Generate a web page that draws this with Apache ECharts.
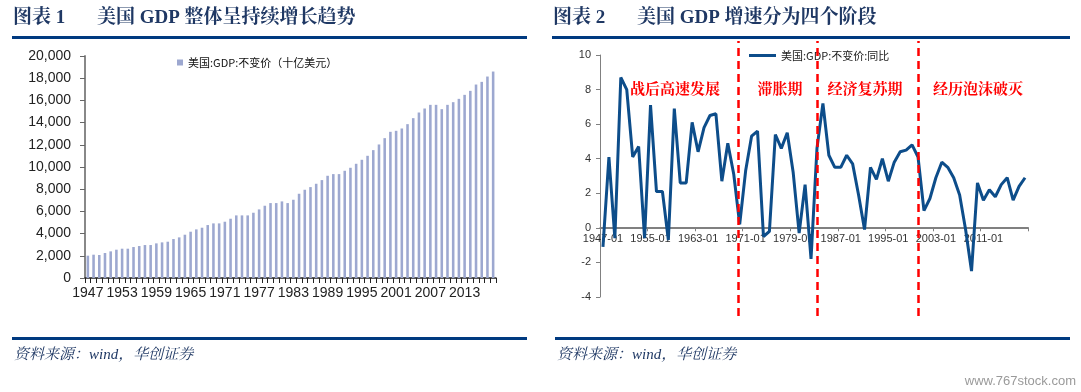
<!DOCTYPE html>
<html><head><meta charset="utf-8">
<script src="https://cdn.jsdelivr.net/npm/echarts@6/dist/echarts.min.js"></script>
<style>html,body{margin:0;padding:0;background:#fff;}#c{width:1081px;height:392px;}</style>
</head><body><div id="c"></div>
<script>
// ---- data ----
const years = ['1947','1948','1949','1950','1951','1952','1953','1954','1955','1956',
  '1957','1958','1959','1960','1961','1962','1963','1964','1965','1966',
  '1967','1968','1969','1970','1971','1972','1973','1974','1975','1976',
  '1977','1978','1979','1980','1981','1982','1983','1984','1985','1986',
  '1987','1988','1989','1990','1991','1992','1993','1994','1995','1996',
  '1997','1998','1999','2000','2001','2002','2003','2004','2005','2006',
  '2007','2008','2009','2010','2011','2012','2013','2014','2015','2016',
  '2017','2018'];
// 美国:GDP:不变价（十亿美元）
const gdpLevel = [2010,2100,2070,2250,2400,2550,2640,2640,2790,2880,
  2970,2970,3120,3210,3270,3510,3660,3900,4170,4380,
  4530,4770,4920,4920,5070,5340,5640,5640,5640,5880,
  6180,6510,6750,6750,6900,6750,7050,7590,7950,8190,
  8490,8820,9210,9360,9360,9660,9930,10290,10650,11010,
  11520,12030,12600,13170,13260,13470,13860,14400,14910,15270,
  15600,15600,15210,15600,15840,16140,16500,16860,17430,17670,
  18150,18600];
// 美国:GDP:不变价:同比 (%)
const gdpGrowth = [-1.1,4.1,-0.6,8.7,8.0,4.1,4.7,-0.6,7.1,2.1,
  2.1,-0.7,6.9,2.6,2.6,6.1,4.4,5.8,6.5,6.6,
  2.7,4.9,3.1,0.2,3.3,5.3,5.6,-0.5,-0.2,5.4,
  4.6,5.5,3.2,-0.3,2.5,-1.8,4.6,7.2,4.2,3.5,
  3.5,4.2,3.7,1.9,-0.1,3.5,2.8,4.0,2.7,3.8,
  4.4,4.5,4.8,4.1,1.0,1.7,2.9,3.8,3.5,2.9,
  1.9,-0.1,-2.5,2.6,1.6,2.2,1.8,2.5,2.9,1.6,
  2.4,2.9];
const growthCats = years.map(y => y + '-01');
const phaseNames = ['战后高速发展','滞胀期','经济复苏期','经历泡沫破灭'];
const phaseBreaks = [1969.7, 1983.0, 2000.0];
const legendLevel = '美国:GDP:不变价（十亿美元）';
const legendGrowth = '美国:GDP:不变价:同比';
const title1 = ['图表 1', '美国 GDP 整体呈持续增长趋势'];
const title2 = ['图表 2', '美国 GDP 增速分为四个阶段'];
const sourceText = '资料来源：wind，华创证券';

// ---- chart ----
const chart = echarts.init(document.getElementById('c'), null, {renderer:'canvas'});
const navy = '#1F3864';
const lineBlue = '#003A80';
const titleFont = "bold 19px 'Liberation Serif','Noto Serif CJK SC','Noto Sans CJK SC',serif";
const srcFont = "italic 15px 'Liberation Serif','Noto Serif CJK SC','Noto Sans CJK SC',serif";
const redFont = "bold 15px 'Noto Serif CJK SC','Noto Sans CJK SC',serif";
const sansAx = "'Liberation Sans', Arial, sans-serif";
const cjk = "'Noto Sans CJK SC', sans-serif";

function txt(text, x, y, font, fill, align) {
  return {type:'text', x:x, y:y, silent:true,
    style:{text:text, font:font, fill:fill, align:align||'left', verticalAlign:'middle'}};
}
function bar(x, y, w, h, c) {
  return {type:'rect', silent:true, shape:{x:x, y:y, width:w, height:h}, style:{fill:c}};
}
const phaseX = [675, 780, 865, 978];

chart.setOption({
  animation:false,
  backgroundColor:'#ffffff',
  graphic:[
    txt(title1[0], 13, 18, titleFont, navy),
    txt(title1[1], 97, 18, titleFont, navy),
    txt(title2[0], 553, 18, titleFont, navy),
    txt(title2[1], 637, 18, titleFont, navy),
    bar(12, 36, 515, 3, lineBlue),
    bar(552, 36, 518, 3, lineBlue),
    bar(12, 337, 515, 3, lineBlue),
    bar(555, 337, 515, 3, lineBlue),
    txt(sourceText, 14, 355, srcFont, navy),
    txt(sourceText, 557, 355, srcFont, navy),
    txt('www.767stock.com', 1076, 381, "13px 'Liberation Sans Narrow','Liberation Sans',sans-serif", '#9a9a9a', 'right'),
    txt(phaseNames[0], phaseX[0], 88, redFont, '#FF0000', 'center'),
    txt(phaseNames[1], phaseX[1], 88, redFont, '#FF0000', 'center'),
    txt(phaseNames[2], phaseX[2], 88, redFont, '#FF0000', 'center'),
    txt(phaseNames[3], phaseX[3], 88, redFont, '#FF0000', 'center')
  ],
  legend:[
    {data:[legendLevel], left:172, top:52, icon:'rect', itemWidth:6, itemHeight:6, itemGap:4,
     textStyle:{fontFamily:cjk, fontSize:11, color:'#111'}},
    {data:[legendGrowth], left:744, top:45, icon:'rect', itemWidth:27, itemHeight:3,
     textStyle:{fontFamily:cjk, fontSize:11, color:'#222'}}
  ],
  grid:[
    {left:85, right:585, top:56, bottom:114},
    {left:600, right:53, top:55, bottom:95},
    {left:600, right:53, top:41, bottom:76},
    {left:600, right:53, top:55, bottom:164.7}
  ],
  xAxis:[
    {type:'category', gridIndex:0, data:years, boundaryGap:true,
     axisLine:{lineStyle:{color:'#222', width:1.5}},
     axisTick:{show:true, interval:0, length:5, lineStyle:{color:'#222'}},
     axisLabel:{interval:5, fontFamily:sansAx, fontSize:14, color:'#222', margin:8}},
    {type:'category', gridIndex:1, data:growthCats, boundaryGap:true,
     axisLine:{onZero:true, lineStyle:{color:'#808080', width:1}},
     axisTick:{show:false},
     axisLabel:{show:false}},
    {type:'value', gridIndex:2, min:1946.5, max:2018.5, show:false},
    {type:'category', gridIndex:3, data:growthCats, boundaryGap:true,
     axisLine:{show:true, lineStyle:{color:'#808080', width:1}},
     axisTick:{show:true, interval:7, length:4, lineStyle:{color:'#808080'}},
     axisLabel:{interval:7, fontFamily:sansAx, fontSize:11, color:'#333', margin:6}}
  ],
  yAxis:[
    {type:'value', gridIndex:0, min:0, max:20000, interval:2000,
     splitLine:{show:false},
     axisLine:{show:true, lineStyle:{color:'#888', width:2}},
     axisTick:{show:true, length:5, lineStyle:{color:'#666'}},
     axisLabel:{fontFamily:sansAx, fontSize:14, color:'#222', margin:14,
       formatter:v => v.toLocaleString('en-US')}},
    {type:'value', gridIndex:1, min:-4, max:10, interval:2,
     splitLine:{show:false},
     axisLine:{show:true, lineStyle:{color:'#808080', width:1}},
     axisTick:{show:true, length:4, lineStyle:{color:'#808080'}},
     axisLabel:{fontFamily:sansAx, fontSize:11, color:'#333', margin:9}},
    {type:'value', gridIndex:2, min:0, max:1, show:false},
    {type:'value', gridIndex:3, min:0, max:1, show:false}
  ],
  series:[
    {name:legendLevel, type:'bar', xAxisIndex:0, yAxisIndex:0, data:gdpLevel,
     barWidth:'45%', itemStyle:{color:'#9DA8D0'}},
    {name:legendGrowth, type:'line', xAxisIndex:1, yAxisIndex:1, data:gdpGrowth,
     symbol:'none', lineStyle:{color:'#0D4D8A', width:3}, itemStyle:{color:'#0D4D8A'}},
    {name:'phases', type:'line', xAxisIndex:2, yAxisIndex:2, data:[], silent:true,
     markLine:{silent:true, symbol:['none','none'], label:{show:false},
       lineStyle:{color:'#FF0000', type:[8,5], width:2.5},
       data:phaseBreaks.map(v => ({xAxis:v}))}}
  ]
});
</script>
</body></html>
